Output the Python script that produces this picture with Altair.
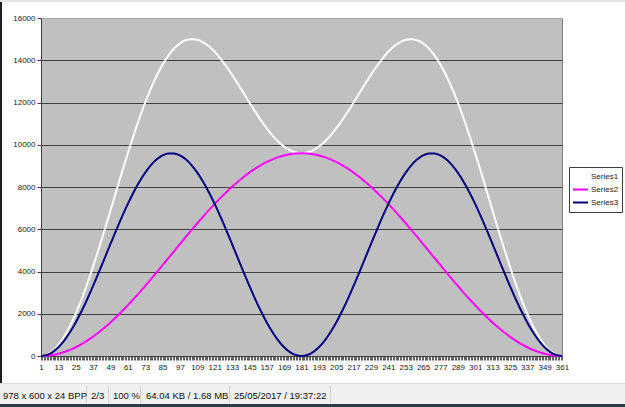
import altair as alt
import pandas as pd

x_cat = [1, 5, 9, 13, 17, 21, 25, 29, 33, 37, 41, 45, 49, 53, 57, 61, 65, 69, 73, 77,
         81, 85, 89, 93, 97, 101, 105, 109, 113, 117, 121, 125, 129, 133, 137, 141, 145,
         149, 153, 157, 161, 165, 169, 173, 177, 181, 185, 189, 193, 197, 201, 205, 209,
         213, 217, 221, 225, 229, 233, 237, 241, 245, 249, 253, 257, 261, 265, 269, 273,
         277, 281, 285, 289, 293, 297, 301, 305, 309, 313, 317, 321, 325, 329, 333, 337,
         341, 345, 349, 353, 357, 361]

series1 = [0, 59, 233, 520, 915, 1412, 2003, 2678, 3425, 4234, 5089, 5979, 6890, 7806,
           8714, 9600, 10451, 11255, 12000, 12677, 13277, 13793, 14220, 14556, 14797,
           14945, 14999, 14966, 14851, 14659, 14400, 14082, 13716, 13314, 12885, 12443,
           12000, 11567, 11154, 10773, 10434, 10143, 9910, 9739, 9635, 9600,
           9635, 9739, 9910, 10143, 10434, 10773, 11154, 11567, 12000, 12443, 12885,
           13314, 13716, 14082, 14400, 14659, 14851, 14966, 14999, 14945, 14797, 14556,
           14220, 13793, 13277, 12677, 12000, 11255, 10451, 9600, 8714, 7806, 6890, 5979,
           5089, 4234, 3425, 2678, 2003, 1412, 915, 520, 233, 59, 0]

series2 = [0, 12, 47, 105, 186, 289, 415, 562, 729, 917, 1123, 1347, 1588, 1845, 2116,
           2400, 2696, 3002, 3317, 3639, 3966, 4298, 4632, 4968, 5302, 5634, 5961, 6283,
           6598, 6904, 7200, 7484, 7755, 8012, 8253, 8477, 8683, 8871, 9038, 9185, 9311,
           9414, 9495, 9553, 9588, 9600,
           9588, 9553, 9495, 9414, 9311, 9185, 9038, 8871, 8683, 8477, 8253, 8012, 7755,
           7484, 7200, 6904, 6598, 6283, 5961, 5634, 5302, 4968, 4632, 4298, 3966, 3639,
           3317, 3002, 2696, 2400, 2116, 1845, 1588, 1347, 1123, 917, 729, 562, 415, 289,
           186, 105, 47, 12, 0]

series3 = [0, 47, 186, 415, 729, 1123, 1588, 2116, 2696, 3317, 3966, 4632, 5302, 5961,
           6598, 7200, 7755, 8253, 8683, 9038, 9311, 9495, 9588, 9588, 9495, 9311, 9038,
           8683, 8253, 7755, 7200, 6598, 5961, 5302, 4632, 3966, 3317, 2696, 2116, 1588,
           1123, 729, 415, 186, 47, 0,
           47, 186, 415, 729, 1123, 1588, 2116, 2696, 3317, 3966, 4632, 5302, 5961, 6598,
           7200, 7755, 8253, 8683, 9038, 9311, 9495, 9588, 9588, 9495, 9311, 9038, 8683,
           8253, 7755, 7200, 6598, 5961, 5302, 4632, 3966, 3317, 2696, 2116, 1588, 1123,
           729, 415, 186, 47, 0]

series_names = ["Series1", "Series2", "Series3"]
series_colors = ["#ffffff", "#ff00ff", "#000080"]
y_ticks = [0, 2000, 4000, 6000, 8000, 10000, 12000, 14000, 16000]
status_items = ["978 x 600 x 24 BPP", "2/3", "100 %", "64.04 KB / 1.68 MB",
                "25/05/2017 / 19:37:22"]

# ---- build long table ----
rows = []
for name, vals in zip(series_names, [series1, series2, series3]):
    for xv, v in zip(x_cat, vals):
        rows.append({"x": xv, "value": v, "series": name})
df = pd.DataFrame(rows)

FONT = "Liberation Sans"
W, H = 521, 338
OX, OY = 41, 18  # plot origin within the page

lines = alt.Chart(df).mark_line(strokeWidth=2, interpolate="monotone").encode(
    x=alt.X("x:Q",
            scale=alt.Scale(domain=[1, 361], nice=False, zero=False),
            axis=alt.Axis(values=list(range(1, 362)), format="d",
                          labelExpr="(datum.value - 1) % 12 == 0 ? datum.label : ''",
                          labelOverlap=False, labelFlush=False, grid=False,
                          tickSize=4, tickColor="#606060", domainColor="#404040",
                          labelPadding=3, labelFont=FONT, labelFontSize=8,
                          labelColor="#222222"),
            title=None),
    y=alt.Y("value:Q",
            scale=alt.Scale(domain=[0, 16000], nice=False),
            axis=alt.Axis(values=y_ticks, format="d", grid=True,
                          gridColor={"condition": {"test": "datum.value >= 16000",
                                                   "value": "#a8a8a8"},
                                     "value": "#404040"},
                          gridWidth=1, tickSize=4, tickColor="#404040",
                          domainColor="#404040", labelPadding=2, labelFont=FONT,
                          labelFontSize=8, labelColor="#222222"),
            title=None),
    color=alt.Color("series:N",
                    scale=alt.Scale(domain=series_names, range=series_colors),
                    legend=alt.Legend(title=None, orient="none", legendX=528,
                                      legendY=149, symbolType="stroke",
                                      symbolStrokeWidth=2, symbolSize=225,
                                      labelFont=FONT, labelFontSize=8,
                                      labelColor="#222222", labelOffset=2,
                                      fillColor="#ffffff", strokeColor="#404040",
                                      padding=3, rowPadding=-1, clipHeight=13)),
)

one = pd.DataFrame({"k": [0]})

def rect(x, x2, y, y2, color):
    return alt.Chart(one).mark_rect(color=color).encode(
        x=alt.value(x - OX), x2=alt.value(x2 - OX),
        y=alt.value(y - OY), y2=alt.value(y2 - OY))

deco = [
    rect(0, 625, 0, 2, "#e4e4e4"),          # top border line
    rect(0, 2, 2, 383, "#1e1e1e"),          # left dark frame
    rect(0, 625, 383, 404, "#f0f0f0"),      # status bar
    rect(0, 625, 383, 384, "#dadada"),
    rect(0, 625, 404, 407, "#2c3a48"),      # bottom dark frame
]
sep_x = [86, 108, 140, 229, 330]
for sx in sep_x:
    deco.append(rect(sx, sx + 1, 386, 403, "#d2d2d2"))

text_x = [3, 91, 113, 146, 234]
for tx, label in zip(text_x, status_items):
    deco.append(
        alt.Chart(one).mark_text(align="left", baseline="middle", font=FONT,
                                 fontSize=9.5, color="#111111", text=label)
        .encode(x=alt.value(tx - OX), y=alt.value(396 - OY))
    )

chart = alt.layer(lines, *deco).properties(
    width=W, height=H,
    padding={"left": OX, "top": OY, "right": 625 - OX - W, "bottom": 407 - OY - H},
    autosize=alt.AutoSizeParams(type="none"),
    background="#ffffff",
).configure_view(fill="#c0c0c0", stroke="#808080", strokeWidth=1)

chart.save("out.html", embed_options={"renderer": "svg", "actions": False})
